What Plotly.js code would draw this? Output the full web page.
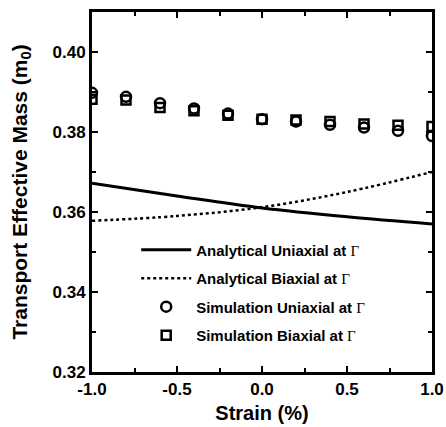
<!DOCTYPE html>
<html><head><meta charset="utf-8">
<script src="https://cdn.plot.ly/plotly-3.0.1.min.js"></script>
<style>html,body{margin:0;padding:0;background:#fff}</style>
</head><body><div id="chart" style="width:446px;height:427px"></div>
<script>
const strain = [-1.0,-0.8,-0.6,-0.4,-0.2,0.0,0.2,0.4,0.6,0.8,1.0];
const simUniaxial = [0.3898,0.3888,0.3872,0.3859,0.3846,0.3832,0.3826,0.3818,0.3811,0.3803,0.3790];
const simBiaxial  = [0.3882,0.3880,0.3861,0.3853,0.3842,0.3832,0.3830,0.3826,0.3820,0.3817,0.3814];
const lineStrain = [-1.0,-0.5,0.0,0.5,1.0];
const anaUniaxial = [0.3672,0.3640,0.3610,0.3588,0.3570];
const anaBiaxial  = [0.3578,0.3590,0.3612,0.3650,0.3700];
const xTickVals = [-1.0,-0.5,0.0,0.5,1.0];
const xTickText = ['-1.0','-0.5','0.0','0.5','1.0'];
const yTickVals = [0.32,0.34,0.36,0.38,0.40];
const yTickText = ['0.32','0.34','0.36','0.38','0.40'];
const G = '</b><span style="font-family:\'Liberation Serif\',serif">\u0393</span>';
const names = ['<b>Analytical Uniaxial at ' + G, '<b>Analytical Biaxial at ' + G,
               '<b>Simulation Uniaxial at ' + G, '<b>Simulation Biaxial at ' + G];
const F = "'Liberation Sans', Arial, sans-serif";
const bold = a => a.map(s => '<b>' + s + '</b>');
const traces = [
  {x: lineStrain, y: anaUniaxial, mode:'lines', name:names[0], legendgroup:'a', line:{color:'#000', width:3, shape:'spline'}},
  {x: lineStrain, y: anaBiaxial, mode:'lines', name:names[1], legendgroup:'b', line:{color:'#000', width:2.5, dash:'dot', shape:'spline'}},
  {x: strain, y: simUniaxial, mode:'markers', name:names[2], legendgroup:'c', marker:{symbol:'circle-open', size:10, color:'#000', line:{width:2.5, color:'#000'}}},
  {x: strain, y: simBiaxial, mode:'markers', name:names[3], legendgroup:'d', marker:{symbol:'square-open', size:9, color:'#000', line:{width:2.5, color:'#000'}}}
];
const axisCommon = {
  showgrid:false, zeroline:false, showline:true, linecolor:'#000', linewidth:3,
  mirror:'ticks', ticks:'inside', ticklen:6, tickwidth:2, tickcolor:'#000',
  tickfont:{family:F, size:17, color:'#000'}
};
const layout = {
  width:446, height:427,
  margin:{l:92, r:14, t:12, b:55},
  paper_bgcolor:'#fff', plot_bgcolor:'#fff',
  showlegend:true,
  legend:{x:0.13, y:0.385, xanchor:'left', yanchor:'top', bgcolor:'rgba(0,0,0,0)',
          font:{family:F, size:15, color:'#000'}, itemwidth:50, tracegroupgap:6},
  xaxis: Object.assign({}, axisCommon, {
    range:[-1,1], tickmode:'array', tickvals:xTickVals, ticktext:bold(xTickText),
    minor:{ticks:'inside', dtick:0.25, ticklen:4, tickwidth:2, tickcolor:'#000'},
    title:{text:'<b>Strain (%)</b>', font:{family:F, size:20, color:'#000'}, standoff:8}
  }),
  yaxis: Object.assign({}, axisCommon, {
    range:[0.32,0.41], tickmode:'array', tickvals:yTickVals, ticktext:bold(yTickText),
    minor:{ticks:'inside', tick0:0.32, dtick:0.01, ticklen:4, tickwidth:2, tickcolor:'#000'},
    title:{text:'<b>Transport Effective Mass (m<sub>0</sub>)</b>', font:{family:F, size:21, color:'#000'}, standoff:20}
  })
};
Plotly.newPlot('chart', traces, layout, {displayModeBar:false, staticPlot:true});
</script></body></html>
